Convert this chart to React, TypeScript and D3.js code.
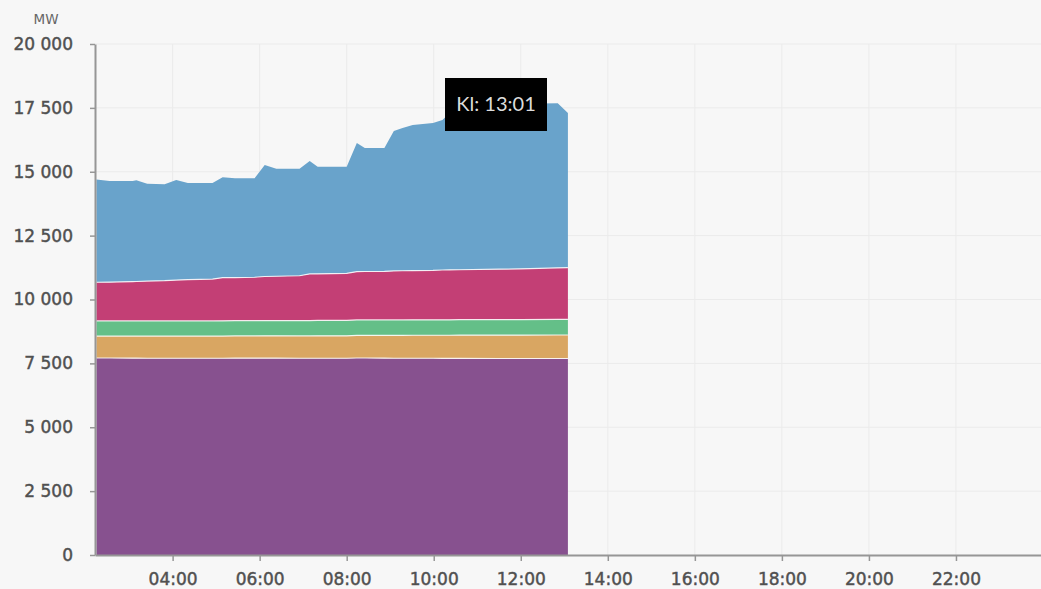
import React, { useEffect, useRef } from 'react';
import * as d3 from 'd3';

// knot times (start of each segment of the outline)
const times = [
  '02:15', '02:33', '03:05', '03:10', '03:25', '03:49', '04:05', '04:21',
  '04:55', '05:09', '05:26', '05:53', '06:07', '06:23', '06:55', '07:09',
  '07:20', '08:00', '08:14', '08:25', '08:52', '09:05', '09:17', '09:31',
  '09:59', '10:12', '10:22', '10:35', '11:30', '12:00', '12:51', '13:05',
];

// MW per production type, bottom to top
const karnkraft = [
  7710, 7710, 7705, 7705, 7700, 7700, 7700, 7700, 7700, 7700, 7705, 7705, 7705, 7705, 7700, 7700,
  7700, 7700, 7710, 7710, 7705, 7700, 7700, 7700, 7700, 7695, 7695, 7695, 7690, 7690, 7690, 7690,
];
const varmekraft = [
  860, 860, 865, 865, 870, 870, 870, 870, 870, 870, 870, 870, 875, 875, 875, 875,
  880, 880, 885, 885, 890, 895, 895, 900, 900, 905, 905, 910, 915, 915, 920, 920,
];
const ovrigt = [
  590, 590, 590, 590, 590, 590, 590, 590, 590, 595, 595, 595, 595, 595, 600, 600,
  600, 600, 605, 605, 605, 605, 605, 605, 605, 605, 605, 605, 610, 610, 610, 615,
];
const vindkraft = [
  1515, 1520, 1540, 1545, 1560, 1575, 1600, 1620, 1640, 1690, 1690, 1700, 1725, 1735, 1755, 1825,
  1825, 1845, 1890, 1895, 1900, 1920, 1925, 1925, 1935, 1950, 1955, 1955, 1970, 1985, 2020, 2020,
];
const vattenkraft = [
  4025, 3960, 3940, 3960, 3810, 3775, 3920, 3780, 3760, 3925, 3885, 3875, 4365, 4210, 4190, 4420,
  4195, 4175, 5035, 4835, 4830, 5475, 5585, 5700, 5770, 5870, 6140, 6435, 6455, 6460, 6440, 6055,
];

const seriesKeys = ['karnkraft', 'varmekraft', 'ovrigt', 'vindkraft', 'vattenkraft'];
const seriesColors = ['#87518f', '#d9a662', '#64bf88', '#c33f75', '#69a3cb'];

const hourTicks = ['04:00', '06:00', '08:00', '10:00', '12:00', '14:00', '16:00', '18:00', '20:00', '22:00'];
const valueTicks = [0, 2500, 5000, 7500, 10000, 12500, 15000, 17500, 20000];
const unitLabel = 'MW';
const tooltipLabel = 'Kl: 13:01';

const W = 1041;
const H = 589;
const plot = { left: 95, right: 1043, top: 44, bottom: 555 };

const parseTime = d3.timeParse('%H:%M');
const fmt = d3.formatLocale({ decimal: ',', thousands: '\u00a0', grouping: [3], currency: ['', ''] }).format(',');

type Row = { time: Date; [key: string]: any };

const App = () => {
  const svgRef = useRef<SVGSVGElement | null>(null);

  useEffect(() => {
    if (!svgRef.current) return;
    const svg = d3.select(svgRef.current);
    svg.selectAll('*').remove();

    const rows: Row[] = times.map((t, i) => ({
      time: parseTime(t)!,
      karnkraft: karnkraft[i],
      varmekraft: varmekraft[i],
      ovrigt: ovrigt[i],
      vindkraft: vindkraft[i],
      vattenkraft: vattenkraft[i],
    }));

    const dayStart = parseTime('00:00')!;
    const xScale = d3
      .scaleTime()
      .domain([parseTime('02:13')!, d3.timeDay.offset(dayStart, 1)])
      .range([plot.left, plot.right]);
    const yScale = d3.scaleLinear().domain([0, 20000]).range([plot.bottom, plot.top]);

    svg.append('rect').attr('width', W).attr('height', H).attr('fill', '#f7f7f7');

    // grid
    const grid = svg.append('g').attr('stroke', '#ebebeb').attr('stroke-width', 1);
    grid
      .selectAll('line.h')
      .data(valueTicks.slice(1))
      .enter()
      .append('line')
      .attr('x1', plot.left)
      .attr('x2', W)
      .attr('y1', (d) => yScale(d))
      .attr('y2', (d) => yScale(d));
    grid
      .selectAll('line.v')
      .data(hourTicks.map((t) => parseTime(t)!))
      .enter()
      .append('line')
      .attr('x1', (d) => xScale(d))
      .attr('x2', (d) => xScale(d))
      .attr('y1', plot.top)
      .attr('y2', plot.bottom);

    // stacked areas
    const stacked = d3.stack<Row>().keys(seriesKeys)(rows);
    const area = d3
      .area<d3.SeriesPoint<Row>>()
      .x((d) => xScale(d.data.time))
      .y0((d) => yScale(d[0]))
      .y1((d) => yScale(d[1]));
    const topLine = d3
      .line<d3.SeriesPoint<Row>>()
      .x((d) => xScale(d.data.time))
      .y((d) => yScale(d[1]));

    svg
      .append('g')
      .selectAll('path')
      .data(stacked)
      .enter()
      .append('path')
      .attr('d', (s) => area(s)!)
      .attr('fill', (_, i) => seriesColors[i]);

    svg
      .append('g')
      .selectAll('path')
      .data(stacked.slice(0, -1))
      .enter()
      .append('path')
      .attr('d', (s) => topLine(s)!)
      .attr('fill', 'none')
      .attr('stroke', '#ffffff')
      .attr('stroke-opacity', 0.85)
      .attr('stroke-width', 1.2);

    // axes
    const yAxis = svg
      .append('g')
      .attr('transform', `translate(${plot.left},0)`)
      .call(
        d3
          .axisLeft(yScale)
          .tickValues(valueTicks)
          .tickFormat((d) => fmt(d as number))
          .tickSize(5)
          .tickSizeOuter(0)
          .tickPadding(17),
      );
    const xAxis = svg
      .append('g')
      .attr('transform', `translate(0,${plot.bottom})`)
      .call(
        d3
          .axisBottom(xScale)
          .tickValues(hourTicks.map((t) => parseTime(t)!))
          .tickFormat((d) => d3.timeFormat('%H:%M')(d as Date))
          .tickSize(6)
          .tickSizeOuter(0)
          .tickPadding(12),
      );

    // semi-bold look: thin stroke in the text colour
    [yAxis, xAxis].forEach((ax) => {
      ax.select('.domain').attr('stroke', '#969696').attr('stroke-width', 2);
      ax.selectAll('.tick line').attr('stroke', '#969696').attr('stroke-width', 1.5);
      ax.selectAll('.tick text')
        .attr('fill', '#505050')
        .attr('stroke', '#505050')
        .attr('stroke-width', 0.45)
        .style('font-family', '"DejaVu Sans", sans-serif')
        .style('font-size', '17px');
    });

    svg
      .append('text')
      .attr('x', 46)
      .attr('y', 24)
      .attr('text-anchor', 'middle')
      .attr('fill', '#666')
      .style('font-family', '"DejaVu Sans", sans-serif')
      .style('font-size', '13.5px')
      .text(unitLabel);

    // hover label
    const tip = svg.append('g').attr('transform', 'translate(445,78)');
    tip.append('rect').attr('width', 102).attr('height', 53).attr('fill', '#000');
    tip
      .append('text')
      .attr('x', 51)
      .attr('y', 33)
      .attr('text-anchor', 'middle')
      .attr('fill', '#dcdcdc')
      .style('font-family', 'Lato, sans-serif')
      .style('font-size', '20px')
      .text(tooltipLabel);
  }, []);

  return (
    <svg
      ref={svgRef}
      width={W}
      height={H}
      style={{ position: 'absolute', left: 0, top: 0, display: 'block' }}
    />
  );
};

export default App;
